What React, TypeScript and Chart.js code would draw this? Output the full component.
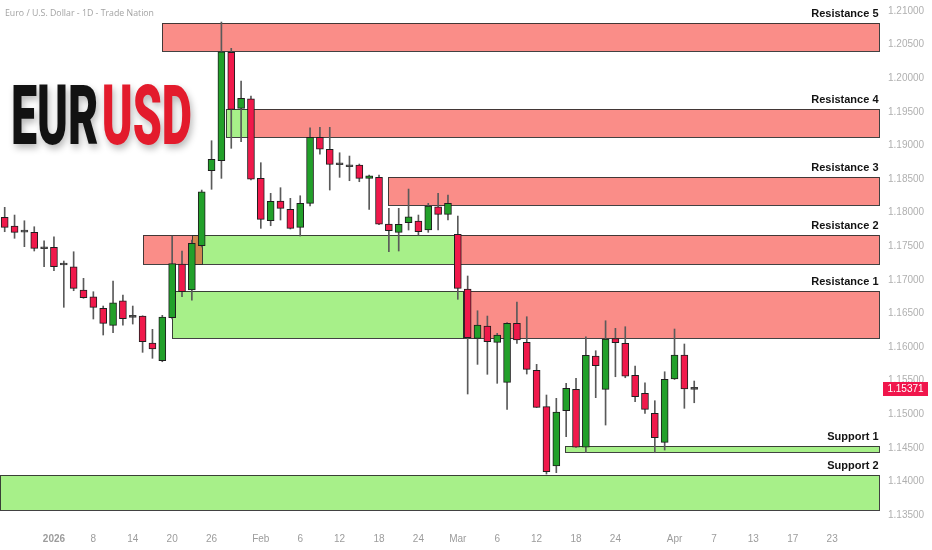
import React, { useEffect, useRef } from 'react';
import { Chart, registerables } from 'chart.js';

Chart.register(...registerables);

// ---- Data ----
const opens = [
  1.17930, 1.17801, 1.17711, 1.17707, 1.17463, 1.17484, 1.17220, 1.17195, 1.16848, 1.16748,
  1.16576, 1.16323, 1.16689, 1.16442, 1.16461, 1.16060, 1.15796, 1.16436, 1.17235, 1.16848,
  1.17507, 1.18624, 1.18772, 1.20385, 1.19552, 1.19695, 1.18510, 1.17879, 1.18173, 1.18049,
  1.17781, 1.18138, 1.19121, 1.18942, 1.18713, 1.18683, 1.18708, 1.18510, 1.18525, 1.17830,
  1.17707, 1.17850, 1.17875, 1.17741, 1.18088, 1.17975, 1.17677, 1.16863, 1.16129, 1.16312,
  1.16070, 1.15475, 1.16353, 1.16070, 1.15653, 1.15112, 1.14229, 1.15052, 1.15371, 1.14508,
  1.15866, 1.15371, 1.16124, 1.16055, 1.15579, 1.15311, 1.15013, 1.14582, 1.15524, 1.15881,
  1.15371,
];
const highs = [
  1.18079, 1.17964, 1.17879, 1.17790, 1.17582, 1.17641, 1.17280, 1.17418, 1.17022, 1.16823,
  1.16610, 1.16982, 1.16774, 1.16610, 1.16465, 1.16263, 1.16472, 1.17652, 1.17429, 1.17592,
  1.18336, 1.19070, 1.20836, 1.20445, 1.19958, 1.19735, 1.18743, 1.18287, 1.18371, 1.18213,
  1.18251, 1.19263, 1.19269, 1.19269, 1.18891, 1.18842, 1.18723, 1.18560, 1.18560, 1.18064,
  1.18064, 1.18351, 1.17964, 1.18138, 1.18287, 1.18262, 1.17949, 1.17057, 1.16540, 1.16461,
  1.16204, 1.16362, 1.16670, 1.16451, 1.15742, 1.15286, 1.15237, 1.15460, 1.15534, 1.16153,
  1.15945, 1.16391, 1.16278, 1.16302, 1.15717, 1.15469, 1.15201, 1.15632, 1.16268, 1.16045,
  1.15494,
];
const lows = [
  1.17716, 1.17618, 1.17493, 1.17429, 1.17195, 1.17135, 1.16591, 1.16838, 1.16725, 1.16417,
  1.16179, 1.16213, 1.16327, 1.16342, 1.15921, 1.15832, 1.15781, 1.16417, 1.16748, 1.16699,
  1.17488, 1.18347, 1.18510, 1.18957, 1.19055, 1.18485, 1.17766, 1.17805, 1.17890, 1.17756,
  1.17652, 1.18098, 1.18868, 1.18336, 1.18525, 1.18475, 1.18460, 1.18049, 1.17820, 1.17418,
  1.17429, 1.17741, 1.17667, 1.17707, 1.17741, 1.17890, 1.16710, 1.15301, 1.15742, 1.15594,
  1.15460, 1.15073, 1.16055, 1.15598, 1.15100, 1.14110, 1.14130, 1.14665, 1.14505, 1.14427,
  1.15246, 1.14839, 1.15558, 1.15543, 1.15186, 1.15013, 1.14427, 1.14467, 1.15517, 1.15088,
  1.15171,
];
const closes = [
  1.17781, 1.17707, 1.17711, 1.17469, 1.17463, 1.17195, 1.17220, 1.16873, 1.16734, 1.16591,
  1.16353, 1.16659, 1.16421, 1.16442, 1.16079, 1.15970, 1.16446, 1.17240, 1.16823, 1.17543,
  1.18311, 1.18793, 1.20394, 1.19537, 1.19701, 1.18496, 1.17900, 1.18168, 1.18064, 1.17766,
  1.18138, 1.19121, 1.18946, 1.18719, 1.18713, 1.18683, 1.18510, 1.18549, 1.17830, 1.17731,
  1.17826, 1.17939, 1.17716, 1.18098, 1.17975, 1.18138, 1.16873, 1.16138, 1.16327, 1.16079,
  1.16179, 1.16353, 1.16104, 1.15668, 1.15103, 1.14144, 1.15033, 1.15385, 1.14508, 1.15876,
  1.15722, 1.16119, 1.16064, 1.15568, 1.15260, 1.15073, 1.14650, 1.15519, 1.15881, 1.15375,
  1.15371,
];

const xTickIndex = [5, 9, 13, 17, 21, 26, 30, 34, 38, 42, 46, 50, 54, 58, 62, 68, 72, 76, 80, 84];
const xTickLabels = ['2026', '8', '14', '20', '26', 'Feb', '6', '12', '18', '24', 'Mar', '6', '12', '18', '24', 'Apr', '7', '13', '17', '23'];
const yTickValues = [
  1.135, 1.14, 1.145, 1.15, 1.155, 1.16, 1.165, 1.17, 1.175, 1.18, 1.185, 1.19, 1.195, 1.2, 1.205, 1.21,
];

// Zones (bar index range, price range, kind, label)
const zoneStart = [16, 22.45, 25.2, 38.9, 14.04, 18.98, 46, 17.0, 46.5, 56.9, -1];
const zoneEnd = [89, 25.2, 89, 89, 20.0, 46, 89, 46.5, 89, 89, 89];
const zoneTop = [1.20821, 1.19537, 1.19537, 1.18525, 1.17667, 1.17667, 1.17667, 1.16838, 1.16838, 1.14527, 1.14095];
const zoneBottom = [1.20405, 1.19129, 1.19129, 1.18113, 1.17231, 1.17231, 1.17231, 1.16129, 1.16129, 1.14433, 1.13574];
const zoneKind = ['res', 'sup', 'res', 'res', 'res', 'sup', 'res', 'sup', 'res', 'sup', 'sup'];
const zoneLabel = ['Resistance 5', '', 'Resistance 4', 'Resistance 3', '', '', 'Resistance 2', '', 'Resistance 1', 'Support 1', 'Support 2'];

const lastPrice = 1.15371;
const headerText = 'Euro / U.S. Dollar - 1D - Trade Nation';
const symbolBase = 'EUR';
const symbolQuote = 'USD';

// ---- Styles / layout config ----
const X_MIN = -0.477;
const X_MAX = 88.86;
const Y_MIN = 1.13307;
const Y_MAX = 1.21164;
const UP = '#22A02A';
const DOWN = '#F0194B';
const DOJI = '#3c3c3c';
const RES_FILL = 'rgba(245,40,30,0.53)';
const SUP_FILL = 'rgba(80,225,20,0.5)';

const idx = opens.map((_, i) => i);
const bodyColors = idx.map((i) => (closes[i] > opens[i] ? UP : closes[i] < opens[i] ? DOWN : DOJI));
const bodyBorders = idx.map((i) => (closes[i] === opens[i] ? DOJI : '#1e1e1e'));

const zonePlugin = {
  id: 'zones',
  beforeDatasetsDraw(chart: any) {
    const { ctx, chartArea: a, scales } = chart;
    const x = scales.x;
    const y = scales.y;
    ctx.save();
    ctx.beginPath();
    ctx.rect(a.left, a.top, a.right - a.left, a.bottom - a.top);
    ctx.clip();
    const order = idx.length ? zoneKind.map((_, i) => i) : [];
    order.sort((i, j) => (zoneKind[i] === 'sup' ? 0 : 1) - (zoneKind[j] === 'sup' ? 0 : 1));
    const rects: number[][] = [];
    for (const i of order) {
      let x0 = Math.round(x.getPixelForValue(Math.max(zoneStart[i], X_MIN)));
      let x1 = Math.round(x.getPixelForValue(Math.min(zoneEnd[i], X_MAX)));
      x0 = Math.max(x0, a.left);
      x1 = Math.min(x1, a.right - 1);
      const y0 = Math.round(y.getPixelForValue(zoneTop[i]));
      const y1 = Math.round(y.getPixelForValue(zoneBottom[i]));
      ctx.fillStyle = zoneKind[i] === 'sup' ? SUP_FILL : RES_FILL;
      ctx.fillRect(x0, y0, x1 - x0, y1 - y0);
      rects.push([x0, y0, x1, y1]);
    }
    ctx.strokeStyle = 'rgba(45,45,45,0.9)';
    ctx.lineWidth = 1;
    for (const r of rects) {
      ctx.strokeRect(r[0] + 0.5, r[1] + 0.5, r[2] - r[0], r[3] - r[1]);
    }
    ctx.restore();
  },
  afterDatasetsDraw(chart: any) {
    const { ctx, chartArea: a, scales } = chart;
    const y = scales.y;
    ctx.save();
    ctx.font = 'bold 11px "Liberation Sans", Arial, sans-serif';
    ctx.fillStyle = '#131313';
    ctx.textAlign = 'right';
    ctx.textBaseline = 'alphabetic';
    zoneLabel.forEach((lab, i) => {
      if (!lab) return;
      const yt = y.getPixelForValue(zoneTop[i]);
      ctx.fillText(lab, a.right - 1.5, yt - 6);
    });
    ctx.restore();
  },
  afterDraw(chart: any) {
    const { ctx, chartArea: a, scales } = chart;
    const y = scales.y;
    ctx.save();
    // header
    ctx.font = '9px "Open Sans", "Noto Sans", sans-serif';
    ctx.fillStyle = '#a3a3a3';
    ctx.textAlign = 'left';
    ctx.textBaseline = 'alphabetic';
    ctx.fillText(headerText, 5, 15.5, 149);

    // big symbol
    ctx.font = '900 83px Roboto, "Liberation Sans", sans-serif';
    const wE = ctx.measureText(symbolBase).width;
    const wU = ctx.measureText(symbolQuote).width;
    const gap = 6;
    const sx = 181 / (wE + wU + gap);
    ctx.save();
    ctx.translate(11, 144);
    ctx.scale(sx, 1);
    ctx.shadowColor = 'rgba(0,0,0,0.28)';
    ctx.shadowBlur = 7;
    ctx.shadowOffsetX = 2;
    ctx.shadowOffsetY = 4;
    ctx.fillStyle = '#121212';
    ctx.fillText(symbolBase, 0, 0);
    ctx.fillStyle = '#E31B2C';
    ctx.fillText(symbolQuote, wE + gap, 0);
    ctx.restore();

    // last price label
    const py = Math.round(y.getPixelForValue(lastPrice));
    ctx.fillStyle = '#F0164C';
    ctx.fillRect(a.right + 3, py - 7, 45, 14);
    ctx.fillStyle = '#ffffff';
    ctx.font = '10px "Liberation Sans", Arial, sans-serif';
    ctx.textAlign = 'center';
    ctx.textBaseline = 'middle';
    ctx.fillText(lastPrice.toFixed(5), a.right + 25.5, py + 0.5);
    ctx.restore();
  },
};

export default function App() {
  const ref = useRef<HTMLCanvasElement>(null);
  useEffect(() => {
    document.body.style.margin = '0';
    const canvas = ref.current;
    if (!canvas) return;
    const chart = new Chart(canvas, {
      type: 'bar',
      data: {
        datasets: [
          {
            label: 'body',
            data: idx.map((i) => ({ x: i, y: [opens[i], closes[i]] })) as any,
            backgroundColor: bodyColors,
            borderColor: bodyBorders,
            borderWidth: 1,
            borderSkipped: false,
            barThickness: 7,
            minBarLength: 2,
            grouped: false,
            order: 1,
          } as any,
          {
            label: 'wick',
            data: idx.map((i) => ({ x: i, y: [lows[i], highs[i]] })) as any,
            backgroundColor: '#5a5a5a',
            borderWidth: 0,
            barThickness: 1,
            grouped: false,
            order: 2,
          } as any,
        ],
      },
      options: {
        responsive: false,
        animation: false,
        devicePixelRatio: 1,
        layout: { padding: 0 },
        plugins: {
          legend: { display: false },
          tooltip: { enabled: false },
          title: { display: false },
        },
        scales: {
          x: {
            type: 'linear',
            min: X_MIN,
            max: X_MAX,
            offset: false,
            bounds: 'data',
            grid: { display: false, drawTicks: false },
            border: { display: false },
            afterBuildTicks: (s: any) => {
              s.ticks = xTickIndex.map((v) => ({ value: v }));
            },
            afterFit: (s: any) => {
              s.height = 22;
              s.paddingLeft = 0;
              s.paddingRight = 0;
            },
            ticks: {
              autoSkip: false,
              maxRotation: 0,
              padding: 5,
              color: '#9c9c9c',
              font: (c: any) => ({
                size: 10,
                family: '"Liberation Sans", Arial, sans-serif',
                weight: c.index === 0 ? 'bold' : 'normal',
              }),
              callback: (_v: any, i: number) => xTickLabels[i],
            },
          },
          y: {
            type: 'linear',
            position: 'right',
            min: Y_MIN,
            max: Y_MAX,
            bounds: 'data',
            grid: { display: false, drawTicks: false },
            border: { display: false },
            afterBuildTicks: (s: any) => {
              s.ticks = yTickValues.map((v) => ({ value: v }));
            },
            afterFit: (s: any) => {
              s.width = 52;
              s.paddingTop = 0;
              s.paddingBottom = 0;
            },
            ticks: {
              padding: 8,
              color: '#b0b0b0',
              font: { size: 10, family: '"Liberation Sans", Arial, sans-serif' },
              callback: (v: any) => Number(v).toFixed(5),
            },
          },
        },
      } as any,
      plugins: [zonePlugin],
    });
    return () => chart.destroy();
  }, []);
  return (
    <div style={{ width: 932, height: 550 }}>
      <canvas ref={ref} width={932} height={550} style={{ display: 'block' }} />
    </div>
  );
}
